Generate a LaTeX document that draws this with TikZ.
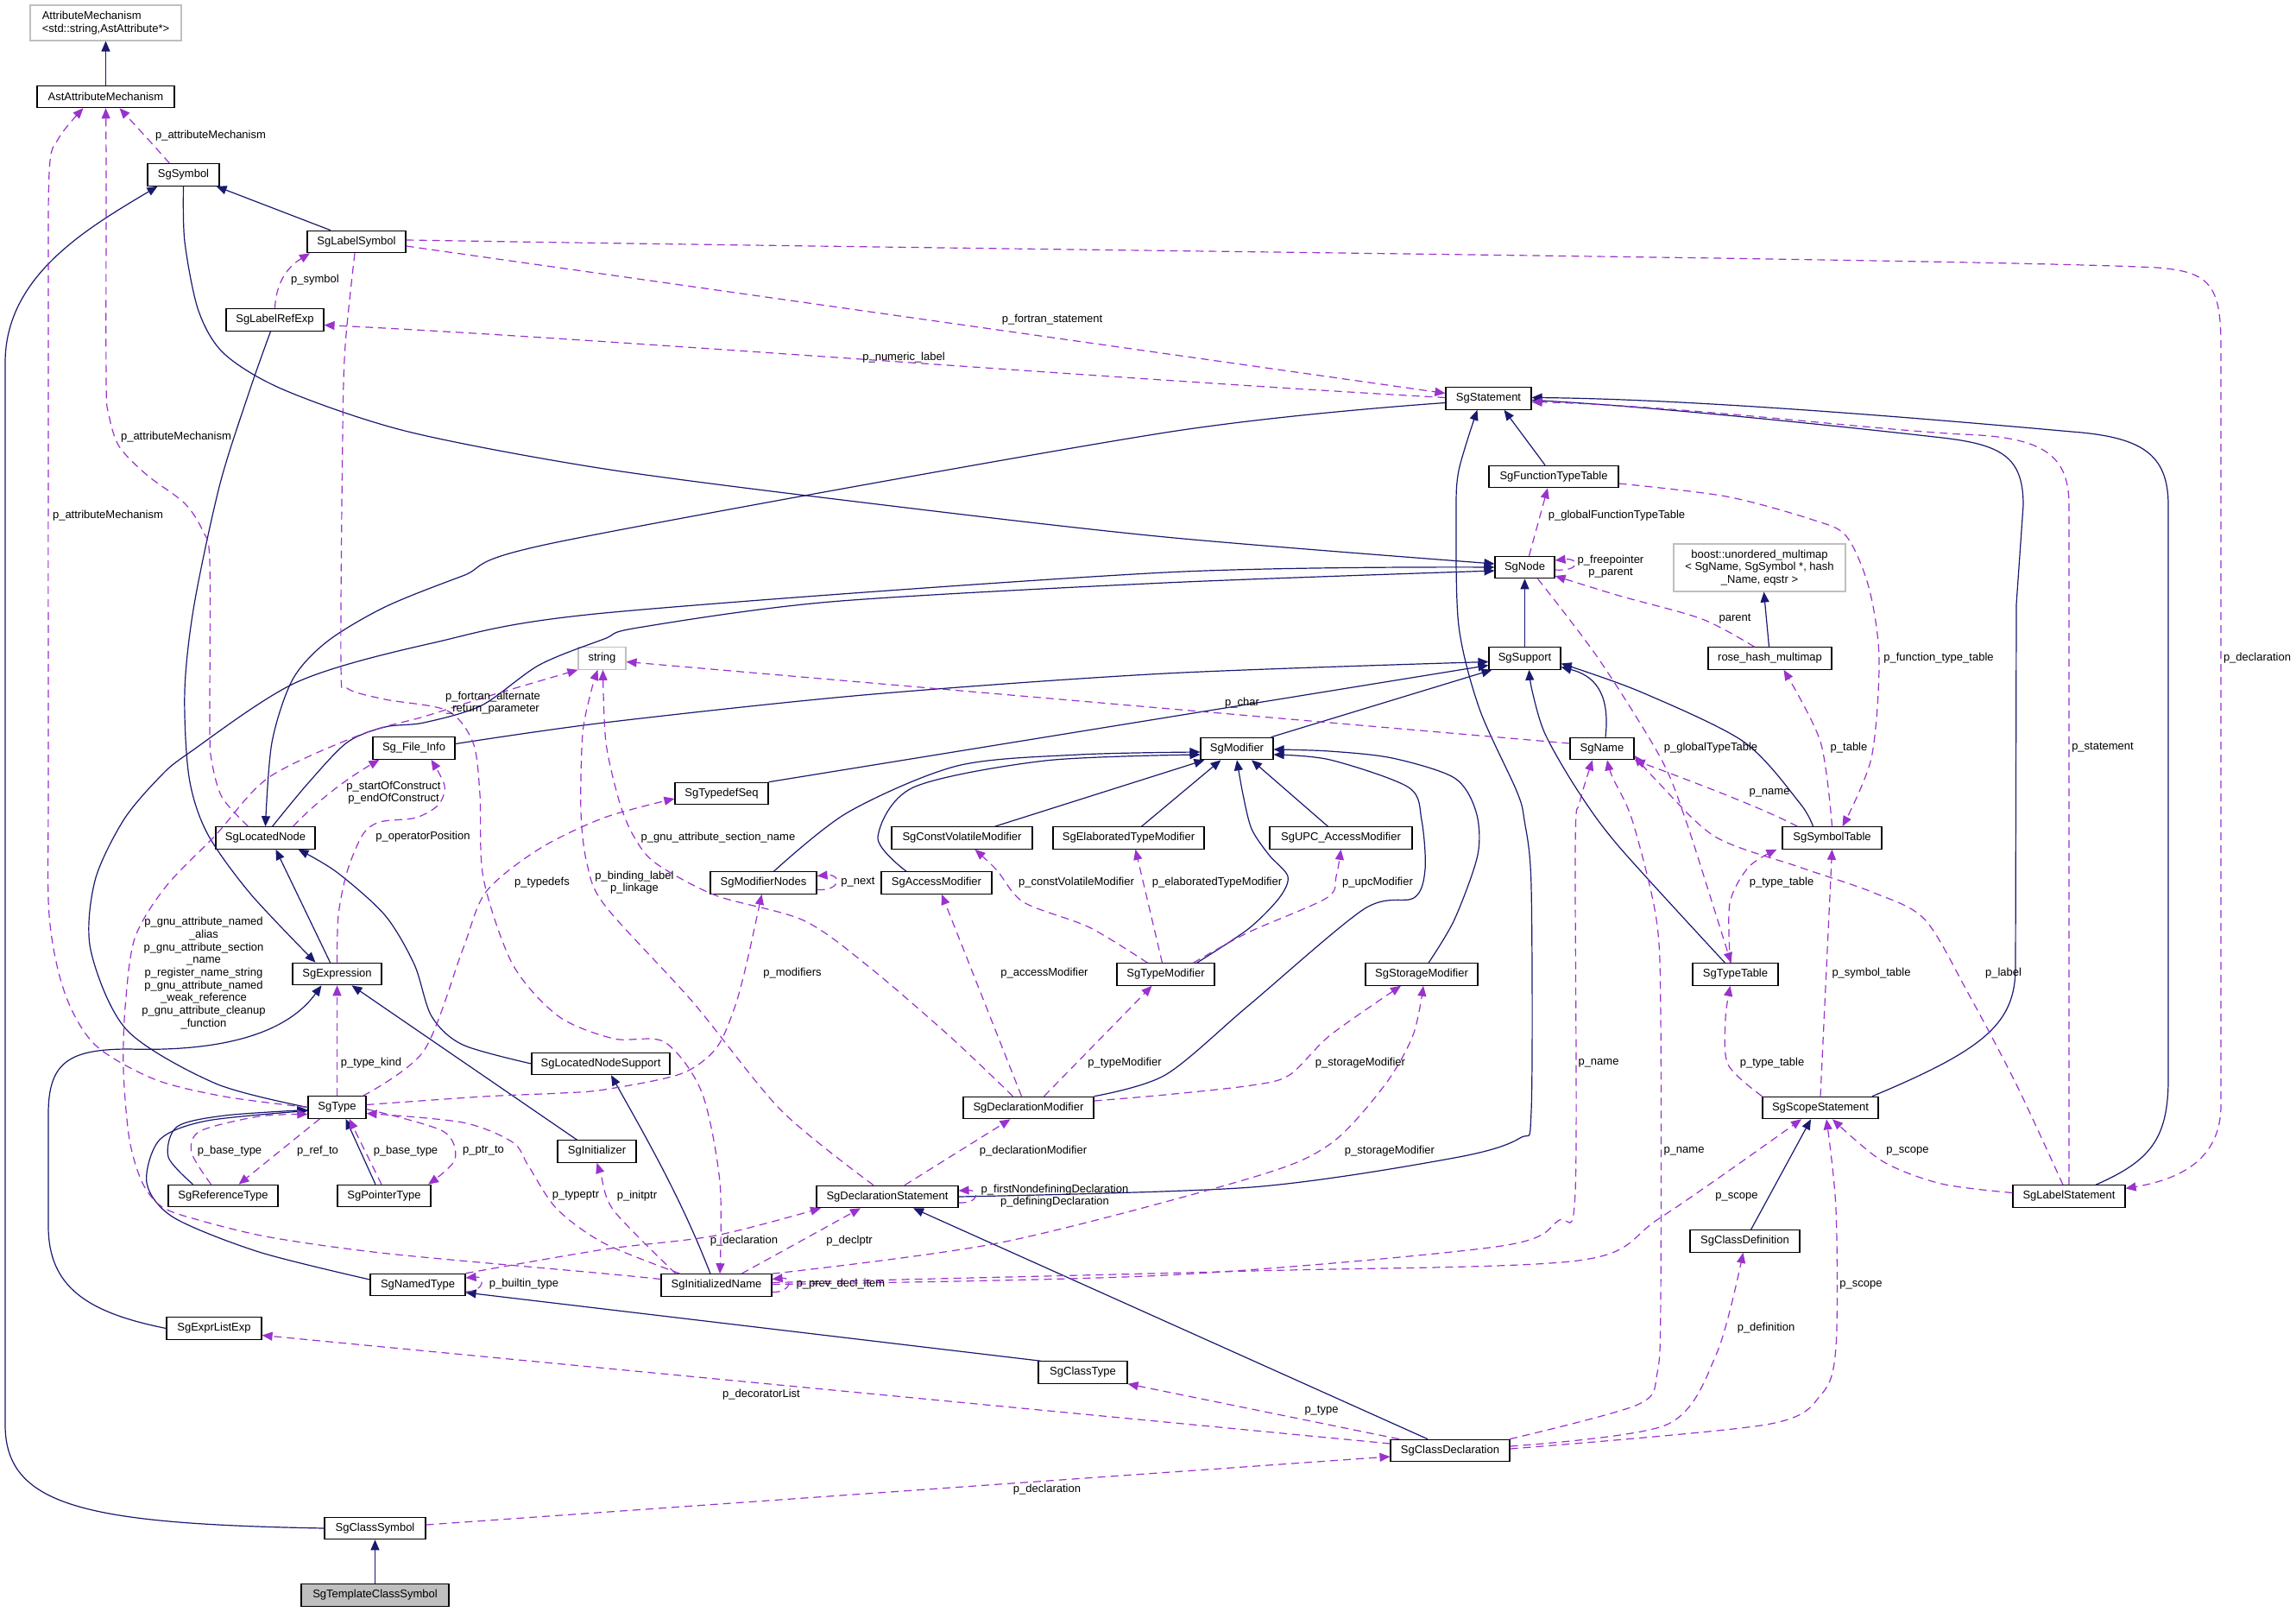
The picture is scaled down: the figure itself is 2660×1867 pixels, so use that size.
\documentclass[tikz,border=0pt]{standalone}
\usepackage{fontspec}
\setmainfont{Liberation Sans}
\usetikzlibrary{arrows.meta}
\definecolor{navy}{RGB}{25,25,112}
\definecolor{purp}{RGB}{154,50,205}
\definecolor{gborder}{RGB}{191,191,191}
\definecolor{gfill}{RGB}{191,191,191}
\newcommand\lblfont{\fontsize{13}{14.7}\selectfont}
\tikzset{
 cls/.style={draw=black, line width=1.1pt, fill=white, minimum height=25.5pt, inner sep=0pt, font=\lblfont},
 ext/.style={cls, draw=gborder},
 inh/.style={draw=navy, line width=1.2pt, -{Triangle[length=12pt,width=10pt]}},
 use/.style={draw=purp, line width=1.2pt, dash pattern=on 9pt off 6pt, -{Triangle[length=12pt,width=10pt]}},
 lbl/.style={font=\lblfont, inner sep=0pt, align=center},
}
\begin{document}
\begin{tikzpicture}[x=1pt,y=-1pt]
\useasboundingbox (0,0) rectangle (2660,1867);
\fill[white] (0,0) rectangle (2660,1867);
% nodes
\node[ext, minimum width=175pt, minimum height=41pt, align=left] (am) at (122.5,26.5) {AttributeMechanism\\<std::string,AstAttribute*>};
\node[cls, minimum width=159pt] (ast) at (122.5,112) {AstAttributeMechanism};
\node[cls, minimum width=83pt] (sym) at (212.5,202.5) {SgSymbol};
\node[cls, minimum width=114pt] (lsym) at (413,280) {SgLabelSymbol};
\node[cls, minimum width=113pt] (lrexp) at (318.5,370.5) {SgLabelRefExp};
\node[cls, minimum width=95pt] (fi) at (479.5,866.5) {Sg\_File\_Info};
\node[ext, minimum width=55pt] (str) at (697.5,762.5) {string};
\node[cls, minimum width=115pt] (locn) at (307.5,970.5) {SgLocatedNode};
\node[cls, minimum width=103pt] (expr) at (390.5,1128) {SgExpression};
\node[cls, minimum width=67pt] (type) at (390.5,1282.5) {SgType};
\node[cls, minimum width=127pt] (rtype) at (258.5,1385) {SgReferenceType};
\node[cls, minimum width=108pt] (ptype) at (445,1385) {SgPointerType};
\node[cls, minimum width=160pt] (lns) at (696,1232) {SgLocatedNodeSupport};
\node[cls, minimum width=91pt] (init) at (691.5,1333.5) {SgInitializer};
\node[cls, minimum width=110pt] (ntype) at (484,1488) {SgNamedType};
\node[cls, minimum width=110pt] (elx) at (248,1538.5) {SgExprListExp};
\node[cls, minimum width=117pt] (csym) at (434.5,1770) {SgClassSymbol};
\node[cls, fill=gfill, minimum width=171pt] (tcsym) at (434.5,1847.5) {SgTemplateClassSymbol};
\node[cls, minimum width=99pt] (stmt) at (1724.5,461.5) {SgStatement};
\node[cls, minimum width=150pt] (ftt) at (1800,552) {SgFunctionTypeTable};
\node[cls, minimum width=69pt] (sgnd) at (1766.5,657) {SgNode};
\node[ext, minimum width=199pt, minimum height=55pt, align=center] (boost) at (2038.5,657.5) {boost::unordered\_multimap\\< SgName, SgSymbol *, hash\\\_Name, eqstr >};
\node[cls, minimum width=83pt] (sup) at (1766.5,762.5) {SgSupport};
\node[cls, minimum width=143pt] (rose) at (2050.5,762.5) {rose\_hash\_multimap};
\node[cls, minimum width=84pt] (mod) at (1433,867) {SgModifier};
\node[cls, minimum width=74pt] (name) at (1856,867) {SgName};
\node[cls, minimum width=165pt] (upc) at (1553.5,970.5) {SgUPC\_AccessModifier};
\node[cls, minimum width=115pt] (symtab) at (2122.5,970.5) {SgSymbolTable};
\node[cls, minimum width=108pt] (tds) at (836,919) {SgTypedefSeq};
\node[cls, minimum width=163pt] (cvm) at (1114.5,970.5) {SgConstVolatileModifier};
\node[cls, minimum width=175pt] (etm) at (1307.5,970.5) {SgElaboratedTypeModifier};
\node[cls, minimum width=123pt] (mn) at (884.5,1022.5) {SgModifierNodes};
\node[cls, minimum width=128pt] (acm) at (1085,1022.5) {SgAccessModifier};
\node[cls, minimum width=113pt] (tm) at (1350.5,1128.5) {SgTypeModifier};
\node[cls, minimum width=130pt] (sm) at (1647,1128.5) {SgStorageModifier};
\node[cls, minimum width=99pt] (tt) at (2010.5,1128.5) {SgTypeTable};
\node[cls, minimum width=151pt] (dm) at (1191.5,1283) {SgDeclarationModifier};
\node[cls, minimum width=134pt] (ss) at (2109,1283) {SgScopeStatement};
\node[cls, minimum width=164pt] (ds) at (1028,1386) {SgDeclarationStatement};
\node[cls, minimum width=130pt] (ls) at (2397,1385.5) {SgLabelStatement};
\node[cls, minimum width=127pt] (cdef) at (2021.5,1437.5) {SgClassDefinition};
\node[cls, minimum width=128pt] (iname) at (830,1488.5) {SgInitializedName};
\node[cls, minimum width=103pt] (ctype) at (1254.5,1589.5) {SgClassType};
\node[cls, minimum width=138pt] (cdecl) at (1680,1680) {SgClassDeclaration};
% inheritance edges
\draw[inh] (ast.north) -- (am.south);
\draw[inh] ([xshift=-30pt]lsym.north) -- ([xshift=-4pt]sym.south east);
\draw[inh] (csym.west) .. controls (100,1765) and (6,1745) .. (6,1650) -- (6,420) .. controls (6,320) and (100,265) .. ([xshift=-30pt]sym.south);
\draw[inh] (tcsym.north) -- (csym.south);
\draw[inh] plot[smooth,tension=0.5] coordinates {(sym.south) (214,280) (230,360) (260,410) (330,452) (473,500) (700,543) (1000,582) (1350,622) ([yshift=4pt]sgnd.west)};
\draw[inh] plot[smooth,tension=0.5] coordinates {([xshift=-5pt]lrexp.south) (290,450) (255,560) (225,700) (214,800) (219,900) (240,965) (290,1035) ([xshift=-25pt]expr.north)};
\draw[inh] plot[smooth,tension=0.5] coordinates {([yshift=-5pt]stmt.west) (1350,501) (650,627) (536,667) (446,703) (379,743) (339,787) (315,860) (locn.north)};
\draw[inh] ([xshift=-8pt]expr.north) -- ([xshift=12pt]locn.south);
\draw[inh] plot[smooth,tension=0.5] coordinates {(lns.west) (536,1210) (500,1177) (480,1117) (446,1060) (390,1010) ([xshift=38pt]locn.south)};
\draw[inh] plot[smooth,tension=0.5] coordinates {([xshift=8pt]locn.north) (357,907) (402,860) (446,842) (491,837) (558,817) (625,770) (700,740) (739,727) (962,697) (1350,675) ([yshift=-4pt]sgnd.west)};
\draw[inh] plot[smooth,tension=0.5] coordinates {(type.west) (250,1255) (147,1193) (105,1100) (110,1020) (143,950) (185,900) (219,872) (344,790) (500,745) (700,710) (1350,663) (sgnd.west)};
\draw[inh] ([xshift=-10pt]ftt.north) -- ([xshift=18pt]stmt.south);
\draw[inh] plot[smooth,tension=0.5] coordinates {(ds.east) (1450,1375) (1685,1341) (1761,1318) (1774,1287) (1774,1027) (1766,950) (1757,916) (1714,821) (1690,725) (1687,600) (1690,545) ([xshift=-13pt]stmt.south)};
\draw[inh] ([xshift=60pt]ss.north) .. controls (2300,1215) and (2335,1185) .. (2335,1120) -- (2336,700) -- (2344,585) .. controls (2344,530) and (2320,515) .. (2250,507) .. controls (2100,490) and (1900,470) .. ([yshift=-2pt]stmt.east);
\draw[inh] ([xshift=31pt]ls.north) .. controls (2490,1345) and (2512,1320) .. (2512,1250) -- (2512,585) .. controls (2512,525) and (2480,506) .. (2400,500) .. controls (2200,482) and (1950,462) .. ([yshift=1pt]stmt.east);
\draw[inh] ([xshift=7pt]cdef.north) -- ([xshift=-11pt]ss.south);
\draw[inh] (sup.north) -- (sgnd.south);
\draw[inh] ([xshift=-1pt]rose.north) -- ([xshift=5pt]boost.south);
\draw[inh] ([xshift=-3pt]mod.north east) -- ([xshift=-38pt]sup.south);
\draw[inh] (tds.north east) -- ([yshift=-8pt]sup.west);
\draw[inh] plot[smooth,tension=0.5] coordinates {([yshift=5pt]fi.east) (700,837) (1000,805) (1350,780) ([yshift=-4pt]sup.west)};
\draw[inh] ([xshift=4pt]name.north) .. controls (1866,800) and (1845,782) .. ([yshift=-10pt]sup.east);
\draw[inh] plot[smooth,tension=0.5] coordinates {([xshift=-12pt]tt.north) (1876,981) (1828,916) (1790,850) (1775,800) ([xshift=5pt]sup.south)};
\draw[inh] plot[smooth,tension=0.5] coordinates {([xshift=-22pt]symtab.north) (2085,930) (2020,859) (1900,801) ([yshift=-6pt]sup.east)};
\draw[inh] plot[smooth,tension=0.5] coordinates {([xshift=12pt]mn.north) (982,941) (1109,887) (1250,874) ([yshift=-4pt]mod.west)};
\draw[inh] plot[smooth,tension=0.5] coordinates {([xshift=-35pt]acm.north) (1017,970) (1058,912) (1211,881) ([yshift=-7pt]mod.west)};
\draw[inh] ([xshift=38pt]cvm.north) -- ([xshift=5pt]mod.south west);
\draw[inh] ([xshift=15pt]etm.north) -- ([xshift=24pt]mod.south west);
\draw[inh] ([xshift=-15pt]upc.north) -- ([xshift=17pt]mod.south);
\draw[inh] plot[smooth,tension=0.5] coordinates {([xshift=36pt]tm.north) (1446,1076) (1482,1040) (1492,1015) (1470,990) (1450,960) (1440,920) (mod.south)};
\draw[inh] plot[smooth,tension=0.5] coordinates {([xshift=8pt]sm.north) (1685,1065) (1712,990) (1710,940) (1685,901) (1613,878) (1540,870) ([yshift=-1pt]mod.east)};
\draw[inh] plot[smooth,tension=0.5] coordinates {(dm.north east) (1350,1245) (1446,1165) (1580,1053) (1638,1040) (1651,1007) (1647,950) (1632,912) (1541,880) ([yshift=-7pt]mod.east)};
\draw[inh] ([xshift=-23pt]init.north) -- ([xshift=17pt]expr.south);
\draw[inh] ([xshift=-7pt]iname.north) .. controls (790,1390) and (750,1320) .. ([xshift=12pt]lns.south);
\draw[inh] (elx.west) .. controls (100,1520) and (56,1490) .. (56,1420) -- (56,1290) .. controls (56,1230) and (80,1215) .. (150,1215) .. controls (250,1218) and (330,1200) .. ([xshift=-18pt]expr.south);
\draw[inh] plot[smooth,tension=0.5] coordinates {([xshift=-35pt]rtype.north) (195,1340) (205,1305) (260,1292) ([yshift=-3pt]type.west)};
\draw[inh] plot[smooth,tension=0.5] coordinates {([yshift=6pt]ntype.west) (300,1450) (201,1410) (170,1370) (185,1320) (240,1298) ([yshift=-4pt]type.west)};
\draw[inh] ([xshift=-10pt]ptype.north) -- ([xshift=10pt]type.south);
\draw[inh] ([xshift=3pt]ctype.north west) -- ([yshift=-9pt]ntype.east);
\draw[inh] ([xshift=-26pt]cdecl.north) -- ([xshift=30pt]ds.south);
% usage edges
\draw[use] ([xshift=-16pt]sym.north) .. controls (175,165) .. ([xshift=16pt]ast.south);
\draw[use] plot[smooth,tension=0.5] coordinates {(type.west) (260,1270) (179,1250) (110,1210) (75,1150) (57,1060) (56,900) (56,400) (57,200) (68,160) ([xshift=-26pt]ast.south)};
\draw[use] plot[smooth,tension=0.5] coordinates {([xshift=-20pt]locn.north) (257,923) (245,880) (243,840) (243,650) (235,615) (214,583) (170,550) (138,517) (126,480) (123,440) (123,200) (ast.south)};
\draw[use] (lrexp.north) .. controls (320,320) and (340,305) .. ([xshift=-54pt]lsym.south);
\draw[use] ([yshift=-5pt]lsym.east) -- ([yshift=6pt]stmt.west);
\draw[use] ([yshift=1pt]stmt.west) .. controls (1300,440) and (700,392) .. ([yshift=-6pt]lrexp.east);
\draw[use] ([yshift=2pt]lsym.east) .. controls (1200,290) and (2300,300) .. (2500,310) .. controls (2560,315) and (2573,330) .. (2573,400) -- (2573,1280) .. controls (2573,1340) and (2530,1365) .. ([yshift=9pt]ls.east);
\draw[use] plot[smooth,tension=0.5] coordinates {([xshift=-2pt]lsym.south) (400,400) (397,500) (395,770) (402,797) (446,810) (518,823) (548,860) (556,920) (560,1017) (594,1117) (647,1177) (711,1203) (770,1207) (813,1265) (834,1369) ([xshift=4pt]iname.north)};
\draw[use] ([yshift=6pt]name.west) -- ([yshift=-4pt]str.east);
\draw[use] plot[smooth,tension=0.5] coordinates {([yshift=7pt]iname.west) (700,1475) (450,1452) (313,1433) (230,1413) (188,1398) (165,1370) (150,1320) (143,1240) (145,1167) (156,1087) (192,1027) (250,967) (312,900) (420,850) (491,830) (570,805) (str.south west)};
\draw[use] ([xshift=32pt]locn.north) .. controls (370,925) and (405,900) .. ([xshift=-40pt]fi.south);
\draw[use] plot[smooth,tension=0.5] coordinates {(expr.north) (392,1060) (402,1010) (420,967) (440,952) (482,947) (508,932) (515,910) ([xshift=20pt]fi.south)};
\draw[use] ([yshift=-8pt]mn.east) .. controls (975,1032) and (975,1012) .. ([yshift=8pt]mn.east);
\draw[use] plot[smooth,tension=0.5] coordinates {([xshift=-16pt]ds.north) (905,1286) (803,1161) (701,1049) (680,1000) (673,940) (675,850) (685,800) ([xshift=-5pt]str.south)};
\draw[use] plot[smooth,tension=0.5] coordinates {([xshift=-18pt]dm.north) (1100,1200) (1007,1120) (931,1066) (829,1037) (760,1000) (735,970) (718,930) (702,860) ([xshift=1pt]str.south)};
\draw[use] plot[smooth,tension=0.5] coordinates {([yshift=3pt]type.east) (560,1270) (650,1266) (700,1262) (788,1244) (829,1215) (850,1170) (864,1120) ([xshift=-2pt]mn.south)};
\draw[use] plot[smooth,tension=0.5] coordinates {([xshift=30pt]type.north) (491,1217) (536,1100) (563,1033) (625,983) (700,947) ([yshift=-6pt]tds.west)};
\draw[use] (type.north) -- (expr.south);
\draw[use] plot[smooth,tension=0.5] coordinates {([xshift=-14pt]rtype.north) (222,1335) (232,1310) (300,1293) ([yshift=-8pt]type.west)};
\draw[use] ([xshift=-20pt]type.south) -- ([xshift=18pt]rtype.north);
\draw[use] ([xshift=-3pt]ptype.north) -- ([xshift=14pt]type.south);
\draw[use] plot[smooth,tension=0.5] coordinates {([yshift=-2pt]type.east) (513,1310) (527,1343) ([xshift=51pt]ptype.north)};
\draw[use] plot[smooth,tension=0.5] coordinates {([xshift=-42pt]iname.north) (700,1440) (645,1400) (612,1350) (594,1323) (536,1300) ([yshift=-7pt]type.east)};
\draw[use] plot[smooth,tension=0.5] coordinates {([xshift=-47pt]iname.north) (711,1402) (696,1360) (init.south)};
\draw[use] plot[smooth,tension=0.5] coordinates {(ntype.north east) (700,1447) (829,1431) ([xshift=-77pt]ds.south)};
\draw[use] ([yshift=-8pt]ntype.east) .. controls (562,1496) and (562,1478) .. ([yshift=8pt]ntype.east);
\draw[use] ([yshift=-8pt]iname.east) .. controls (918,1497) and (918,1479) .. ([yshift=7pt]iname.east);
\draw[use] ([xshift=29pt]iname.north) -- ([xshift=-31pt]ds.south);
\draw[use] ([yshift=-7pt]ds.east) .. controls (1135,1394) and (1135,1378) .. ([yshift=7pt]ds.east);
\draw[use] ([xshift=20pt]ds.north) -- ([xshift=-21pt]dm.south);
\draw[use] ([xshift=-8pt]dm.north) -- ([xshift=6pt]acm.south);
\draw[use] ([xshift=18pt]dm.north) -- ([xshift=-16pt]tm.south);
\draw[use] plot[smooth,tension=0.5] coordinates {([yshift=8pt]dm.east) (1350,1268) (1450,1257) (1494,1245) (1541,1199) ([xshift=-24pt]sm.south)};
\draw[use] plot[smooth,tension=0.5] coordinates {(iname.north east) (1160,1439) (1450,1364) (1541,1325) (1604,1257) (1637,1199) ([xshift=2pt]sm.south)};
\draw[use] plot[smooth,tension=0.5] coordinates {([yshift=3pt]iname.east) (1450,1472) (1828,1460) (1924,1410) ([xshift=-22pt]ss.south)};
\draw[use] plot[smooth,tension=0.5] coordinates {([yshift=1pt]iname.east) (1350,1477) (1733,1444) (1805,1414) (1825,1380) (1825,981) (1830,930) ([xshift=-11pt]name.south)};
\draw[use] plot[smooth,tension=0.5] coordinates {([xshift=69pt]cdecl.north) (1897,1627) (1920,1590) (1924,1500) (1924,1180) (1919,1065) (1891,950) (1868,900) ([xshift=6pt]name.south)};
\draw[use] ([xshift=-40pt]symtab.north) .. controls (2040,935) and (1960,905) .. (name.south east);
\draw[use] plot[smooth,tension=0.5] coordinates {([xshift=-7pt]ls.north) (2336,1256) (2280,1150) (2230,1065) (2171,1034) (2084,1004) (1987,969) (1920,905) ([yshift=-8pt]name.east)};
\draw[use] plot[smooth,tension=0.5] coordinates {([xshift=15pt]sgnd.south) (1852,763) (1924,878) (1953,950) (1985,1050) ([xshift=-5pt]tt.north)};
\draw[use] ([xshift=5pt]sgnd.north) -- ([xshift=-7pt]ftt.south);
\draw[use] ([yshift=-3pt]sgnd.east) .. controls (1832,662) and (1830,646) .. ([yshift=8pt]sgnd.east);
\draw[use] plot[smooth,tension=0.5] coordinates {([xshift=-18pt]rose.north) (1972,717) (1876,690) ([yshift=-10pt]sgnd.east)};
\draw[use] plot[smooth,tension=0.5] coordinates {([yshift=-8pt]ftt.east) (2000,575) (2100,602) (2139,621) (2165,680) (2177,763) (2168,878) ([xshift=12pt]symtab.north)};
\draw[use] plot[smooth,tension=0.5] coordinates {(symtab.north) (2109,859) ([xshift=16pt]rose.south)};
\draw[use] plot[smooth,tension=0.5] coordinates {([xshift=-6pt]tt.north) (2004,1046) (2026,1004) ([xshift=-64pt]symtab.south)};
\draw[use] plot[smooth,tension=0.5] coordinates {(ss.north west) (2002,1233) (1999,1180) ([xshift=-6pt]tt.south)};
\draw[use] (ss.north) -- (symtab.south);
\draw[use] plot[smooth,tension=0.5] coordinates {([yshift=4pt]ls.west) (2249,1371) (2181,1345) ([xshift=14pt]ss.south)};
\draw[use] (ls.north) -- (2397,585) .. controls (2397,525) and (2365,506) .. (2273,503) .. controls (2150,496) and (1950,470) .. ([yshift=-4pt]stmt.east);
\draw[use] plot[smooth,tension=0.5] coordinates {([yshift=5pt]cdecl.east) (1931,1650) (1989,1567) ([xshift=-2pt]cdef.south)};
\draw[use] plot[smooth,tension=0.5] coordinates {([yshift=2pt]cdecl.east) (2046,1650) (2110,1615) (2127,1560) (2127,1400) ([xshift=7pt]ss.south)};
\draw[use] ([xshift=-59pt]cdecl.north) -- (ctype.south east);
\draw[use] ([yshift=8pt]cdecl.west) -- ([yshift=-8pt]elx.east);
\draw[use] ([yshift=4pt]csym.east) -- ([yshift=-7pt]cdecl.west);
\draw[use] plot[smooth,tension=0.5] coordinates {([xshift=-21pt]tm.north) (1262,1074) (1186,1045) (1155,1008) ([xshift=15pt]cvm.south)};
\draw[use] ([xshift=-4pt]tm.north) -- ([xshift=8pt]etm.south);
\draw[use] plot[smooth,tension=0.5] coordinates {([xshift=32pt]tm.north) (1446,1080) (1537,1040) (1548,1015) (upc.south)};
% labels
\node[lbl] (t1) at (244,157) {p\_attributeMechanism};
\node[lbl] (t2) at (204,506) {p\_attributeMechanism};
\node[lbl] (t3) at (125,597) {p\_attributeMechanism};
\node[lbl] (t4) at (365,324) {p\_symbol};
\node[lbl] (t5) at (1219,370) {p\_fortran\_statement};
\node[lbl] (t6) at (1047,414) {p\_numeric\_label};
\node[lbl] (t7) at (2615,762) {p\_declaration};
\node[lbl] (t8) at (571,814) {p\_fortran\_alternate\\\_return\_parameter};
\node[lbl] (t9) at (1439,814) {p\_char};
\node[lbl] (t10) at (236,1127) {p\_gnu\_attribute\_named\\\_alias\\p\_gnu\_attribute\_section\\\_name\\p\_register\_name\_string\\p\_gnu\_attribute\_named\\\_weak\_reference\\p\_gnu\_attribute\_cleanup\\\_function};
\node[lbl] (t11) at (456,918) {p\_startOfConstruct\\p\_endOfConstruct};
\node[lbl] (t12) at (490,969) {p\_operatorPosition};
\node[lbl] (t13) at (994,1022) {p\_next};
\node[lbl] (t14) at (735,1022) {p\_binding\_label\\p\_linkage};
\node[lbl] (t15) at (832,970) {p\_gnu\_attribute\_section\_name};
\node[lbl] (t16) at (918,1127) {p\_modifiers};
\node[lbl] (t17) at (628,1022) {p\_typedefs};
\node[lbl] (t18) at (430,1231) {p\_type\_kind};
\node[lbl] (t19) at (266,1333) {p\_base\_type};
\node[lbl] (t20) at (368,1333) {p\_ref\_to};
\node[lbl] (t21) at (470,1333) {p\_base\_type};
\node[lbl] (t22) at (560,1333) {p\_ptr\_to};
\node[lbl] (t23) at (667,1385) {p\_typeptr};
\node[lbl] (t24) at (738,1385) {p\_initptr};
\node[lbl] (t25) at (862,1437) {p\_declaration};
\node[lbl] (t26) at (607,1487) {p\_builtin\_type};
\node[lbl] (t27) at (974,1487) {p\_prev\_decl\_item};
\node[lbl] (t28) at (984,1437) {p\_declptr};
\node[lbl] (t29) at (1222,1385) {p\_firstNondefiningDeclaration\\p\_definingDeclaration};
\node[lbl] (t30) at (1197,1333) {p\_declarationModifier};
\node[lbl] (t31) at (1210,1127) {p\_accessModifier};
\node[lbl] (t32) at (1303,1231) {p\_typeModifier};
\node[lbl] (t33) at (1576,1231) {p\_storageModifier};
\node[lbl] (t34) at (1610,1333) {p\_storageModifier};
\node[lbl] (t35) at (2012,1386) {p\_scope};
\node[lbl] (t36) at (1852,1231) {p\_name};
\node[lbl] (t37) at (1951,1333) {p\_name};
\node[lbl] (t38) at (2050,918) {p\_name};
\node[lbl] (t39) at (2321,1127) {p\_label};
\node[lbl] (t40) at (1982,866) {p\_globalTypeTable};
\node[lbl] (t41) at (1873,597) {p\_globalFunctionTypeTable};
\node[lbl] (t42) at (1866,656) {p\_freepointer\\p\_parent};
\node[lbl] (t43) at (2010,717) {parent};
\node[lbl] (t44) at (2246,762) {p\_function\_type\_table};
\node[lbl] (t45) at (2142,866) {p\_table};
\node[lbl] (t46) at (2064,1022) {p\_type\_table};
\node[lbl] (t47) at (2053,1231) {p\_type\_table};
\node[lbl] (t48) at (2168,1127) {p\_symbol\_table};
\node[lbl] (t49) at (2210,1333) {p\_scope};
\node[lbl] (t50) at (2436,866) {p\_statement};
\node[lbl] (t51) at (2046,1538) {p\_definition};
\node[lbl] (t52) at (2156,1488) {p\_scope};
\node[lbl] (t53) at (1531,1634) {p\_type};
\node[lbl] (t54) at (882,1615) {p\_decoratorList};
\node[lbl] (t55) at (1213,1725) {p\_declaration};
\node[lbl] (t56) at (1247,1022) {p\_constVolatileModifier};
\node[lbl] (t57) at (1410,1022) {p\_elaboratedTypeModifier};
\node[lbl] (t58) at (1596,1022) {p\_upcModifier};
\end{tikzpicture}
\end{document}
